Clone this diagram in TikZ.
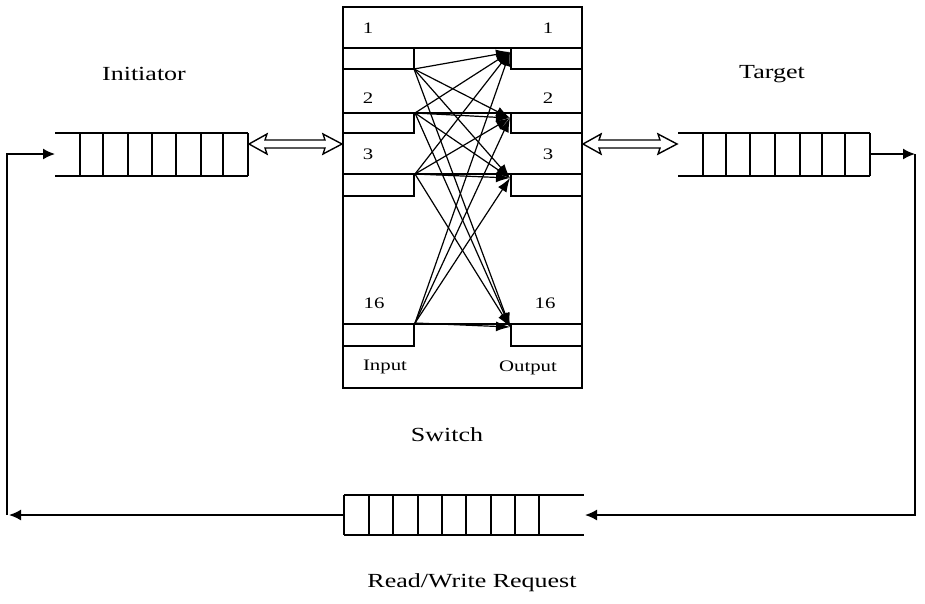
\documentclass[tikz,border=0pt]{standalone}
\usepackage{fontspec}
\setmainfont{Liberation Serif}
\usetikzlibrary{arrows.meta}
\tikzset{
  wire/.style={line width=1.6pt},
  link/.style={line width=1.2pt, -{Latex[length=14pt,width=10pt]}},
  feed/.style={line width=1.6pt, -{Latex[length=12pt,width=11pt]}},
  biglabel/.style={font=\fontsize{20}{24}\selectfont, inner sep=0pt},
  portlabel/.style={font=\fontsize{16}{19}\selectfont, inner sep=0pt},
  dblarrow/.style={line width=1.4pt, fill=white, line join=miter},
}
\newcommand{\wide}[1]{\scalebox{1.3}[1]{#1}}
\begin{document}
\begin{tikzpicture}[x=1pt,y=-1pt]
\useasboundingbox (0,0) rectangle (925,603);

% ---------- switch frame ----------
\draw[wire] (343,7) rectangle (582,388);

% port bands: top line across, notches on the input and output sides
\foreach \n/\t/\b in {1/48/69, 2/113/133, 3/174/196, 16/324/346}{
  \draw[wire] (343,\t) -- (582,\t);
  \draw[wire] (343,\b) -- (414,\b) -- (414,\t);
  \draw[wire] (582,\b) -- (511,\b) -- (511,\t);
}

% input and output port points
\coordinate (in1)  at (414,69);
\coordinate (in2)  at (415,113);
\coordinate (in3)  at (415,174);
\coordinate (in16) at (415,323);
\coordinate (out1)  at (510,52);
\coordinate (out2)  at (510,118);
\coordinate (out3)  at (510,178);
\coordinate (out16) at (510,327);

% full crossbar: every input to every output
\foreach \i in {1,2,3,16}{
  \foreach \o in {1,2,3,16}{
    \draw[link] (in\i) -- (out\o);
  }
}

% port numbers
\node[portlabel] (l1) at (368,28) {\wide{1}};
\node[portlabel] (r1) at (548,28) {\wide{1}};
\node[portlabel] (l2) at (368,98) {\wide{2}};
\node[portlabel] (r2) at (548,98) {\wide{2}};
\node[portlabel] (l3) at (368,154) {\wide{3}};
\node[portlabel] (r3) at (548,154) {\wide{3}};
\node[portlabel] (l16) at (374,303) {\wide{16}};
\node[portlabel] (r16) at (545,303) {\wide{16}};
\node[portlabel] (inlab) at (385,367) {\wide{Input}};
\node[portlabel] (outlab) at (528,368) {\wide{Output}};

% ---------- initiator queue ----------
\draw[wire] (55,133) -- (248,133);
\draw[wire] (55,176) -- (248,176);
\foreach \x in {80,103,128,152,176,201,223,248}
  \draw[wire] (\x,133) -- (\x,176);
\coordinate (iqin) at (55,154);

% ---------- target queue ----------
\draw[wire] (678,133) -- (870,133);
\draw[wire] (678,176) -- (870,176);
\foreach \x in {703,726,750,775,800,822,845,870}
  \draw[wire] (\x,133) -- (\x,176);
\coordinate (tqout) at (870,154);

% ---------- request queue ----------
\draw[wire] (344,495) -- (584,495);
\draw[wire] (344,535) -- (584,535);
\foreach \x in {344,369,393,418,442,466,491,515,539}
  \draw[wire] (\x,495) -- (\x,535);
\coordinate (rqout) at (344,515);
\coordinate (rqin)  at (585,515);

% ---------- hollow double arrows ----------
\draw[dblarrow] (249,144) -- (267,134) -- (265,140) -- (325,140) -- (323,134)
  -- (342,144) -- (323,154) -- (325,148) -- (265,148) -- (267,154) -- cycle;
\draw[dblarrow] (583,144) -- (601,134) -- (599,140) -- (660,140) -- (658,134)
  -- (677,144) -- (658,154) -- (660,148) -- (599,148) -- (601,154) -- cycle;

% ---------- feedback loop ----------
\coordinate (lc) at (7,515);
\coordinate (lt) at (7,154);
\coordinate (rt) at (915,154);
\coordinate (rb) at (915,515);
\draw[feed] (rqout) -- (9,515);
\draw[feed] (lc) -- (lt) -- (iqin);
\draw[feed] (tqout) -- (rt);
\draw[feed] (rt) -- (rb) -- (rqin);

% ---------- captions ----------
\node[biglabel] (init) at (144,74) {\wide{Initiator}};
\node[biglabel] (targ) at (772,74) {\wide{Target}};
\node[biglabel] (sw) at (447,435) {\wide{Switch}};
\node[biglabel] (req) at (472,583) {\wide{Read/Write Request}};
\end{tikzpicture}
\end{document}
